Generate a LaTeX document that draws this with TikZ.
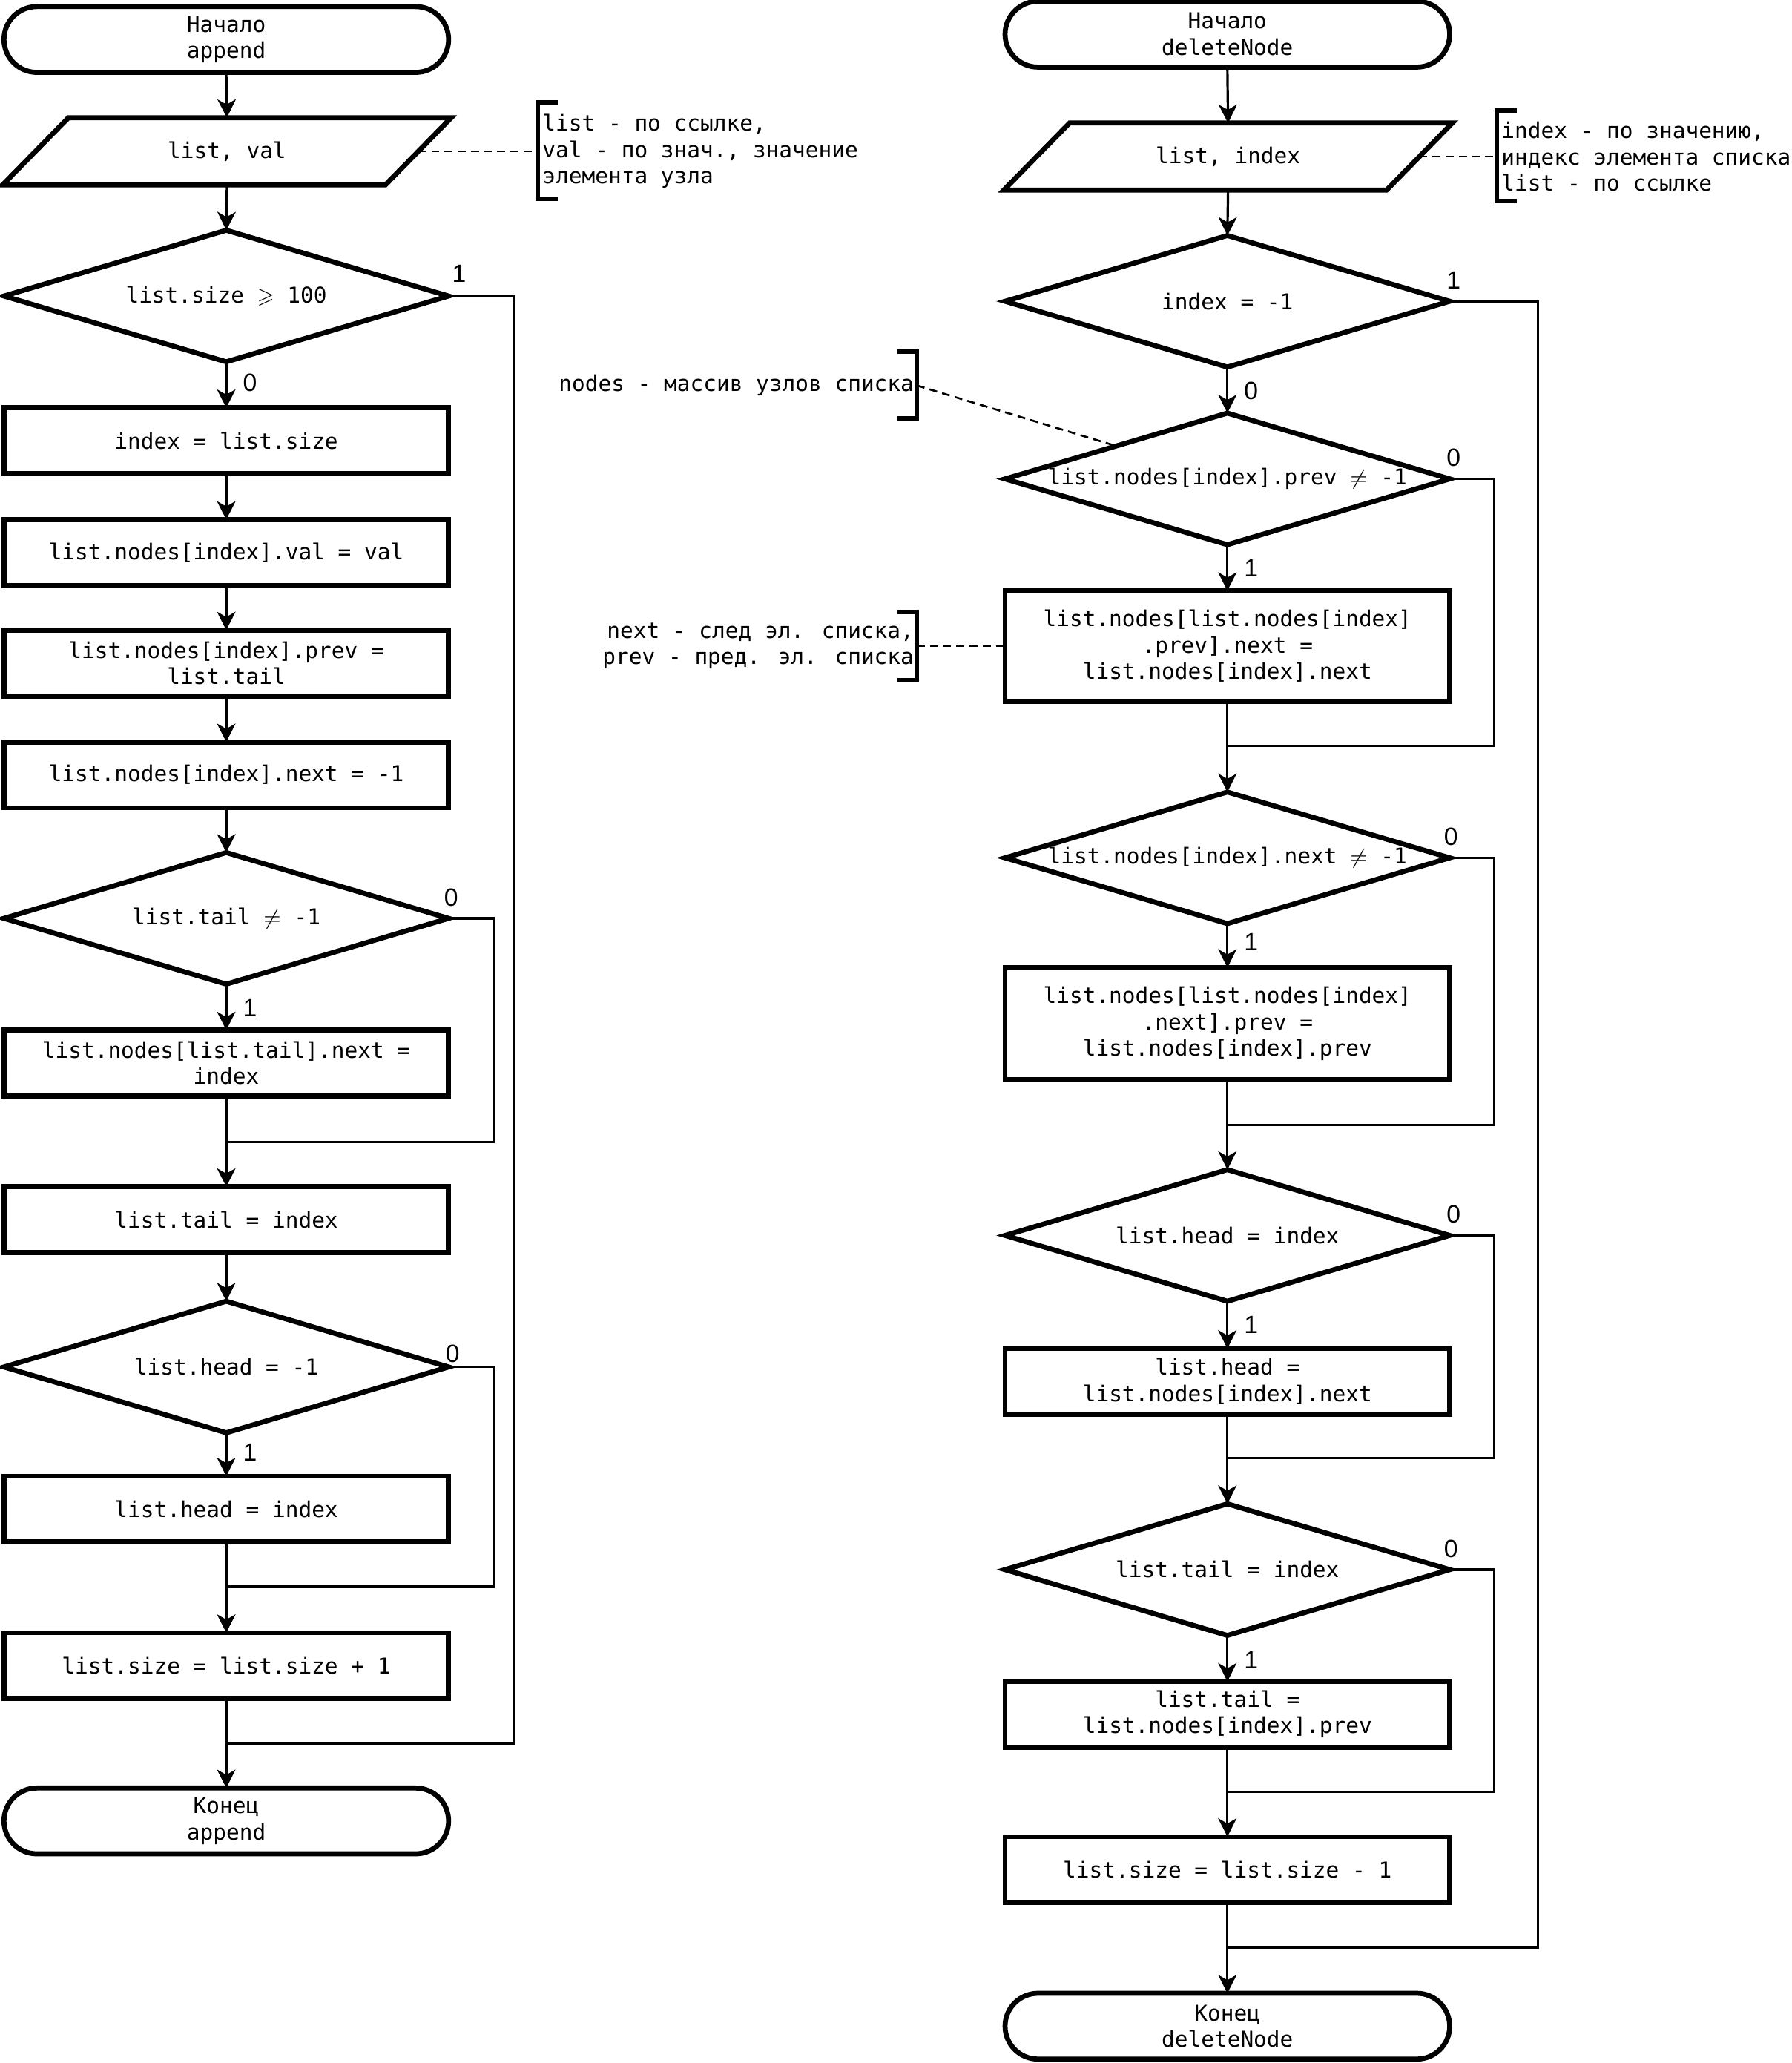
\documentclass[tikz,border=0pt]{standalone}
\usepackage{fontspec}
\usepackage{amssymb}
\setmainfont{DejaVu Sans Mono}
\newfontfamily\labfont{Liberation Sans}
\usetikzlibrary{arrows.meta,shapes.misc,calc}
\newcommand\mydiam[1]{\draw[shp] (#1.north) -- (#1.east) -- (#1.south) -- (#1.west) -- cycle;}
\newcommand\mypara[1]{\draw[shp] ($(#1.north west)+(50,0)$) -- (#1.north east) -- ($(#1.south east)+(-50,0)$) -- (#1.south west) -- cycle;}
\begin{document}
\begin{tikzpicture}[x=0.5pt,y=-0.5pt,
  every node/.style={font=\fontsize{8.3pt}{10pt}\selectfont},
  base/.style={align=center, inner sep=0pt, outer sep=0pt},
  term/.style={base, rounded rectangle, draw, line width=1.9pt, minimum width=169pt, minimum height=25pt},
  proc/.style={base, rectangle, draw, line width=1.9pt, minimum width=169pt, minimum height=25pt},
  dbox/.style={base, minimum width=169pt, minimum height=50pt},
  pbox/.style={base, minimum width=170.5pt, minimum height=25.5pt},
  shp/.style={line width=1.9pt, line join=miter},
  conn/.style={line width=0.9pt},
  arr/.style={conn, -{Stealth[length=7pt,width=7pt,inset=2pt]}},
  note/.style={line width=0.75pt, dash pattern=on 3pt off 2pt},
  brk/.style={line width=1.7pt},
  lab/.style={font=\labfont\fontsize{9.5pt}{10pt}\selectfont, inner sep=0pt},
  ntext/.style={inner sep=0pt, align=left}
]
\useasboundingbox (0,0) rectangle (1362,1568);

% ================= LEFT: append =================
\node[term] (sA) at (172,30) {Начало\\append};
\node[pbox] (pA) at (172.5,115) {list, val};
\mypara{pA}
\coordinate (pAr) at ($(pA.east)+(-25,0)$);
\node[dbox] (dA1) at (172,225) {list.size $\geqslant$ 100};
\mydiam{dA1}
\node[proc] (bA1) at (172,335) {index = list.size};
\node[proc] (bA2) at (172,420) {list.nodes[index].val = val};
\node[proc] (bA3) at (172,504) {list.nodes[index].prev =\\list.tail};
\node[proc] (bA4) at (172,589) {list.nodes[index].next = -1};
\node[dbox] (dA2) at (172,698) {list.tail $\neq$ -1};
\mydiam{dA2}
\node[proc] (bA5) at (172,808) {list.nodes[list.tail].next =\\index};
\coordinate (mA1) at (172,868);
\node[proc] (bA6) at (172,927) {list.tail = index};
\node[dbox] (dA3) at (172,1039) {list.head = -1};
\mydiam{dA3}
\node[proc] (bA7) at (172,1147) {list.head = index};
\coordinate (mA2) at (172,1206);
\node[proc] (bA8) at (172,1266) {list.size = list.size + 1};
\coordinate (mA3) at (172,1325);
\node[term] (eA) at (172,1384) {Конец\\append};

% note left
\node[ntext, anchor=west] (nA) at (412,115) {list - по ссылке,\\val - по знач., значение\\элемента узла};
\coordinate (kA) at (409,115);
\draw[brk] (424,78) -- (409,78) -- (409,151) -- (424,151);
\draw[note] (pAr) -- (kA);

\draw[arr] (sA.south) -- (pA.north);
\draw[arr] (pA.south) -- (dA1.north);
\draw[arr] (dA1.south) -- (bA1.north);
\draw[arr] (bA1.south) -- (bA2.north);
\draw[arr] (bA2.south) -- (bA3.north);
\draw[arr] (bA3.south) -- (bA4.north);
\draw[arr] (bA4.south) -- (dA2.north);
\draw[arr] (dA2.south) -- (bA5.north);
\draw[arr] (bA5.south) -- (bA6.north);
\draw[conn] (dA2.east) -| ($(mA1)+(203,0)$) -- (mA1);
\draw[arr] (bA6.south) -- (dA3.north);
\draw[arr] (dA3.south) -- (bA7.north);
\draw[arr] (bA7.south) -- (bA8.north);
\draw[conn] (dA3.east) -| ($(mA2)+(203,0)$) -- (mA2);
\draw[arr] (bA8.south) -- (eA.north);
\draw[conn] (dA1.east) -| ($(mA3)+(219,0)$) -- (mA3);

\node[lab] at ($(dA1.east)+(8,-17)$) {1};
\node[lab] at ($(dA1.south)+(18,16)$) {0};
\node[lab] at ($(dA2.east)+(2,-16)$) {0};
\node[lab] at ($(dA2.south)+(18,18)$) {1};
\node[lab] at ($(dA3.east)+(3,-10)$) {0};
\node[lab] at ($(dA3.south)+(18,15)$) {1};

% ================= RIGHT: deleteNode =================
\node[term] (sB) at (933,26) {Начало\\deleteNode};
\node[pbox] (pB) at (933.5,119) {list, index};
\mypara{pB}
\coordinate (pBr) at ($(pB.east)+(-25,0)$);
\node[dbox] (dB1) at (933,229) {index = -1};
\mydiam{dB1}
\node[dbox] (dB2) at (933,364) {list.nodes[index].prev $\neq$ -1};
\mydiam{dB2}
\node[proc, minimum height=42pt] (bB1) at (933,491) {list.nodes[list.nodes[index]\\.prev].next =\\list.nodes[index].next};
\coordinate (mB1) at (933,567);
\node[dbox] (dB3) at (933,652) {list.nodes[index].next $\neq$ -1};
\mydiam{dB3}
\node[proc, minimum height=42.5pt] (bB2) at (933,778) {list.nodes[list.nodes[index]\\.next].prev =\\list.nodes[index].prev};
\coordinate (mB2) at (933,855);
\node[dbox] (dB4) at (933,939) {list.head = index};
\mydiam{dB4}
\node[proc] (bB3) at (933,1050) {list.head =\\list.nodes[index].next};
\coordinate (mB3) at (933,1108);
\node[dbox] (dB5) at (933,1193) {list.tail = index};
\mydiam{dB5}
\node[proc] (bB4) at (933,1303) {list.tail =\\list.nodes[index].prev};
\coordinate (mB4) at (933,1362);
\node[proc] (bB5) at (933,1421) {list.size = list.size - 1};
\coordinate (mB5) at (933,1480);
\node[term] (eB) at (933,1540) {Конец\\deleteNode};

% notes right
\node[ntext, anchor=west] (nB) at (1141,119) {index - по значению,\\индекс элемента списка\\list - по ссылке};
\coordinate (kB) at (1138,119);
\draw[brk] (1153,84) -- (1138,84) -- (1138,153) -- (1153,153);
\draw[note] (pBr) -- (kB);

\node[ntext, anchor=east, align=right] (nC) at (695,293) {nodes - массив узлов списка};
\coordinate (kC) at (697,293);
\draw[brk] (682,267) -- (697,267) -- (697,318) -- (682,318);
\draw[note] (kC) -- ($(dB2.north)!0.5!(dB2.west)$);

\node[ntext, anchor=east, align=right] (nD) at (695,491) {next - след эл. списка,\\prev - пред. эл. списка};
\coordinate (kD) at (697,491);
\draw[brk] (682,465) -- (697,465) -- (697,517) -- (682,517);
\draw[note] (kD) -- (bB1.west);

\draw[arr] (sB.south) -- (pB.north);
\draw[arr] (pB.south) -- (dB1.north);
\draw[arr] (dB1.south) -- (dB2.north);
\draw[arr] (dB2.south) -- (bB1.north);
\draw[arr] (bB1.south) -- (dB3.north);
\draw[conn] (dB2.east) -| ($(mB1)+(203,0)$) -- (mB1);
\draw[arr] (dB3.south) -- (bB2.north);
\draw[arr] (bB2.south) -- (dB4.north);
\draw[conn] (dB3.east) -| ($(mB2)+(203,0)$) -- (mB2);
\draw[arr] (dB4.south) -- (bB3.north);
\draw[arr] (bB3.south) -- (dB5.north);
\draw[conn] (dB4.east) -| ($(mB3)+(203,0)$) -- (mB3);
\draw[arr] (dB5.south) -- (bB4.north);
\draw[arr] (bB4.south) -- (bB5.north);
\draw[conn] (dB5.east) -| ($(mB4)+(203,0)$) -- (mB4);
\draw[arr] (bB5.south) -- (eB.north);
\draw[conn] (dB1.east) -| ($(mB5)+(236,0)$) -- (mB5);

\node[lab] at ($(dB1.east)+(3,-16)$) {1};
\node[lab] at ($(dB1.south)+(18,18)$) {0};
\node[lab] at ($(dB2.east)+(3,-16)$) {0};
\node[lab] at ($(dB2.south)+(18,18)$) {1};
\node[lab] at ($(dB3.east)+(1,-16)$) {0};
\node[lab] at ($(dB3.south)+(18,14)$) {1};
\node[lab] at ($(dB4.east)+(3,-16)$) {0};
\node[lab] at ($(dB4.south)+(18,18)$) {1};
\node[lab] at ($(dB5.east)+(1,-16)$) {0};
\node[lab] at ($(dB5.south)+(18,19)$) {1};
\end{tikzpicture}
\end{document}
